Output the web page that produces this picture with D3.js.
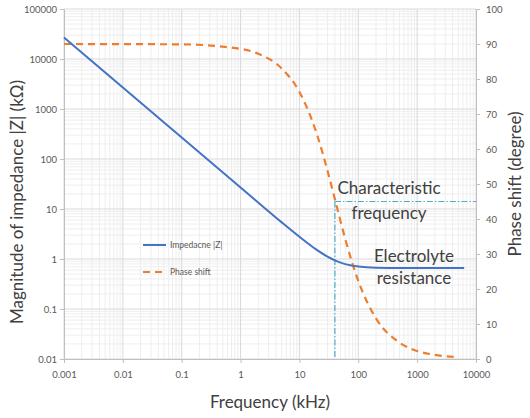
<!doctype html>
<html>
<head>
    <meta charset="utf-8">
    <title>Impedance and phase shift</title>
    <script src="https://cdnjs.cloudflare.com/ajax/libs/d3/7.8.5/d3.min.js"></script>
    <style>
        body {
            margin: 0;
            background: #fff;
            font-family: 'Lato', 'Open Sans', sans-serif;
        }
        .tick text {
            font-size: 9.5px;
            fill: #595959;
            font-family: 'Lato', sans-serif;
        }
        .title {
            fill: #404040;
            font-size: 17px;
        }
    </style>
</head>
<body>
    <div id="chart"></div>
    <script>
        // frequency in kHz, impedance in kOhm, phase in degrees
        var impFreq = [0.001, 0.01, 0.1, 1, 5, 10, 20, 30, 40, 60, 100, 200, 500, 1000, 6300];
        var impValue = [27000, 2700, 270, 27, 5.4, 2.78, 1.5, 1.11, 0.94, 0.79, 0.71, 0.67, 0.66, 0.66, 0.66];

        var phaseFreq = [0.001, 0.1, 1, 2, 5, 10, 20, 30, 41, 60, 100, 200, 500, 1000, 2000, 5000];
        var phaseValue = [90, 89.9, 88.6, 87.2, 83, 76.3, 64, 53.8, 45, 34.3, 22.3, 11.6, 4.7, 2.3, 1.2, 0.5];

        var xTicks = [0.001, 0.01, 0.1, 1, 10, 100, 1000, 10000];
        var yTicks = [0.01, 0.1, 1, 10, 100, 1000, 10000, 100000];
        var phaseTicks = [0, 10, 20, 30, 40, 50, 60, 70, 80, 90, 100];

        var charFreq = 40;
        var charPhase = 45;

        var width = 530, height = 418;
        var margin = { top: 9, right: 54, bottom: 59, left: 64 };

        var svg = d3.select("#chart").append("svg").attr("width", width).attr("height", height);

        var x = d3.scaleLog([0.001, 10000], [margin.left, width - margin.right]);
        var y = d3.scaleLog([0.01, 100000], [height - margin.bottom, margin.top]);
        var yPhase = d3.scaleLinear([0, 100], [height - margin.bottom, margin.top]);

        // minor grid values (2..9 in each decade)
        var xMinor = [], yMinor = [];
        xTicks.slice(0, -1).forEach(function (d) {
            for (var k = 2; k < 10; k++) xMinor.push(d * k);
        });
        yTicks.slice(0, -1).forEach(function (d) {
            for (var k = 2; k < 10; k++) yMinor.push(d * k);
        });

        var grid = svg.append("g").attr("class", "grid");
        grid.selectAll(".vminor").data(xMinor).join("line")
            .attr("x1", d => x(d)).attr("x2", d => x(d))
            .attr("y1", margin.top).attr("y2", height - margin.bottom)
            .attr("stroke", "#eeeeee").attr("stroke-width", 1);
        grid.selectAll(".hminor").data(yMinor).join("line")
            .attr("class", "hminor")
            .attr("y1", d => y(d)).attr("y2", d => y(d))
            .attr("x1", margin.left).attr("x2", width - margin.right)
            .attr("stroke", "#eeeeee").attr("stroke-width", 1);
        grid.selectAll(".vmajor").data(xTicks).join("line")
            .attr("class", "vmajor")
            .attr("x1", d => x(d)).attr("x2", d => x(d))
            .attr("y1", margin.top).attr("y2", height - margin.bottom)
            .attr("stroke", "#d9d9d9").attr("stroke-width", 1);
        grid.selectAll(".hmajor").data(yTicks).join("line")
            .attr("class", "hmajor")
            .attr("y1", d => y(d)).attr("y2", d => y(d))
            .attr("x1", margin.left).attr("x2", width - margin.right)
            .attr("stroke", "#d9d9d9").attr("stroke-width", 1);

        // axes
        var xAxis = d3.axisBottom(x).tickValues(xTicks).tickFormat(d3.format("~g")).tickSize(4).tickPadding(8);
        var yAxis = d3.axisLeft(y).tickValues(yTicks).tickFormat(d => d3.format("~f")(d)).tickSize(4).tickPadding(3);
        var pAxis = d3.axisRight(yPhase).tickValues(phaseTicks).tickSize(4).tickPadding(6);

        function styleAxis(g) {
            g.select(".domain").attr("stroke", "#bfbfbf");
            g.selectAll(".tick line").attr("stroke", "#bfbfbf");
        }

        svg.append("g").attr("transform", `translate(0,${height - margin.bottom})`).call(xAxis).call(styleAxis);
        svg.append("g").attr("transform", `translate(${margin.left},0)`).call(yAxis).call(styleAxis);
        svg.append("g").attr("transform", `translate(${width - margin.right},0)`).call(pAxis).call(styleAxis);

        // characteristic frequency guide lines
        svg.append("line")
            .attr("x1", x(charFreq)).attr("x2", x(charFreq))
            .attr("y1", yPhase(charPhase)).attr("y2", yPhase(0))
            .attr("stroke", "#4bacc6").attr("stroke-width", 1.2)
            .attr("stroke-dasharray", "6,2,1.5,2");
        svg.append("line")
            .attr("x1", x(charFreq)).attr("x2", x(10000))
            .attr("y1", yPhase(charPhase)).attr("y2", yPhase(charPhase))
            .attr("stroke", "#4bacc6").attr("stroke-width", 1.2)
            .attr("stroke-dasharray", "6,2,1.5,2");

        // series
        var impData = impFreq.map((f, i) => [f, impValue[i]]);
        var phaseData = phaseFreq.map((f, i) => [f, phaseValue[i]]);

        var impLine = d3.line().x(d => x(d[0])).y(d => y(d[1])).curve(d3.curveMonotoneX);
        var phaseLine = d3.line().x(d => x(d[0])).y(d => yPhase(d[1])).curve(d3.curveMonotoneX);

        svg.append("path").datum(phaseData)
            .attr("d", phaseLine)
            .attr("fill", "none")
            .attr("stroke", "#ed7d31")
            .attr("stroke-width", 2.2)
            .attr("stroke-dasharray", "7,5");

        svg.append("path").datum(impData)
            .attr("d", impLine)
            .attr("fill", "none")
            .attr("stroke", "#4472c4")
            .attr("stroke-width", 2);

        // legend
        var legend = svg.append("g").attr("transform", "translate(143,245)");
        legend.append("line").attr("x1", 0).attr("x2", 23).attr("y1", 0).attr("y2", 0)
            .attr("stroke", "#4472c4").attr("stroke-width", 2);
        legend.append("text").attr("x", 27).attr("y", 3).text("Impedacne |Z|")
            .attr("font-size", "8.5px").attr("fill", "#595959");
        legend.append("line").attr("x1", 0).attr("x2", 23).attr("y1", 27).attr("y2", 27)
            .attr("stroke", "#ed7d31").attr("stroke-width", 2).attr("stroke-dasharray", "7,5");
        legend.append("text").attr("x", 27).attr("y", 30).text("Phase shift")
            .attr("font-size", "8.5px").attr("fill", "#595959");

        // annotations
        var notes = [
            { t: "Characteristic", x: 389, y: 194 },
            { t: "frequency", x: 389, y: 219 },
            { t: "Electrolyte", x: 414, y: 262 },
            { t: "resistance", x: 414, y: 284 }
        ];
        svg.selectAll(".note").data(notes).join("text")
            .attr("class", "title note")
            .attr("x", d => d.x).attr("y", d => d.y)
            .attr("text-anchor", "middle")
            .text(d => d.t);

        // axis titles
        svg.append("text").attr("class", "title")
            .attr("x", 270).attr("y", 408)
            .attr("text-anchor", "middle")
            .text("Frequency (kHz)");
        svg.append("text").attr("class", "title")
            .attr("transform", "translate(23,202) rotate(-90)")
            .attr("text-anchor", "middle")
            .text("Magnitude of impedance |Z| (kΩ)");
        svg.append("text").attr("class", "title")
            .attr("transform", "translate(521,184) rotate(-90)")
            .attr("text-anchor", "middle")
            .text("Phase shift (degree)");
    </script>
</body>
</html>
